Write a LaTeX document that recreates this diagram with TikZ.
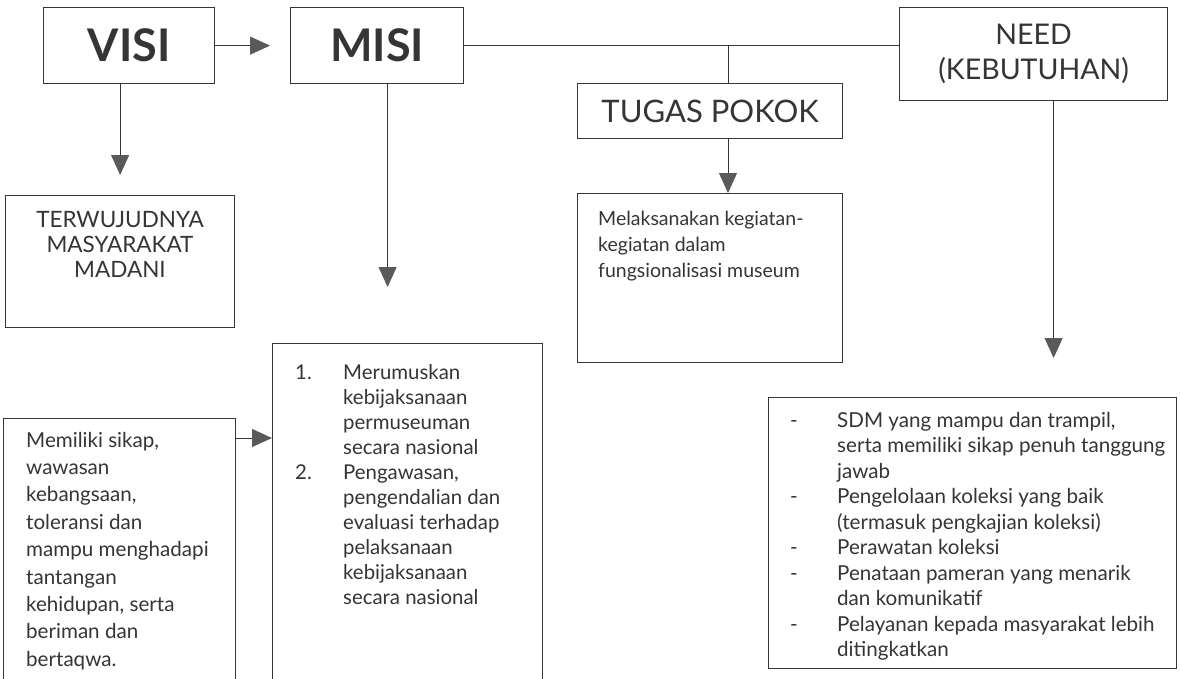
\documentclass[tikz,border=0pt]{standalone}
\usepackage{fontspec}
\setmainfont{Lato}
\usetikzlibrary{arrows.meta}
\definecolor{ink}{HTML}{353535}
\definecolor{headfill}{HTML}{5A5A5A}
\begin{document}
\begin{tikzpicture}[x=1pt,y=-1pt,
  box/.style={draw=ink, line width=1.2pt, rectangle, inner sep=0pt, text=ink},
  conn/.style={draw=ink, line width=1pt},
  arr/.style={conn, -{Triangle[length=20pt,width=18pt,fill=headfill,color=headfill]}},
  big/.style={font=\fontsize{45}{50}\selectfont\bfseries},
  mid/.style={font=\fontsize{31}{36}\selectfont},
  need/.style={font=\fontsize{28.5}{35}\selectfont, align=center},
  capt/.style={font=\fontsize{22.5}{25}\selectfont, text=ink, inner sep=0pt},
  body/.style={text=ink, inner sep=0pt}
]
\useasboundingbox (0,0) rectangle (1181,678);
\clip (0,0) rectangle (1181,678);
\fill[white] (0,0) rectangle (1181,678);

% boxes
\node[box, big, minimum width=171pt, minimum height=76pt, anchor=north west] (visi) at (43,7) {VISI};
\node[box, big, minimum width=173pt, minimum height=76pt, anchor=north west] (misi) at (290,7) {MISI};
\node[box, need, minimum width=268pt, minimum height=93pt, anchor=north west] (needb) at (899,7) {NEED\\(KEBUTUHAN)};
\node[box, mid, minimum width=265pt, minimum height=55pt, anchor=north west] (tugas) at (577,83) {TUGAS POKOK};
\node[box, minimum width=265pt, minimum height=169pt, anchor=north west] (melak) at (577,193) {};
\node[box, minimum width=229pt, minimum height=132pt, anchor=north west] (terw) at (5,195) {};
\node[box, minimum width=232pt, minimum height=280pt, anchor=north west] (memil) at (3,418) {};
\node[box, minimum width=270pt, minimum height=350pt, anchor=north west] (misil) at (272,343) {};
\node[box, minimum width=408pt, minimum height=271pt, anchor=north west] (needl) at (768,397) {};

% texts
\node[capt, anchor=base] (terwt) at (120,227) {\begin{tabular}[t]{@{}c@{}}TERWUJUDNYA\\ MASYARAKAT\\ MADANI\end{tabular}};
\node[body, anchor=base west, font=\fontsize{19.5}{26}\selectfont] (melakt) at (598,225) {\begin{tabular}[t]{@{}l@{}}Melaksanakan kegiatan-\\ kegiatan dalam\\ fungsionalisasi museum\end{tabular}};
\node[body, anchor=base west, font=\fontsize{20.6}{27.4}\selectfont] (memilt) at (26,447) {\begin{tabular}[t]{@{}l@{}}Memiliki sikap,\\ wawasan\\ kebangsaan,\\ toleransi dan\\ mampu menghadapi\\ tantangan\\ kehidupan, serta\\ beriman dan\\ bertaqwa.\end{tabular}};
\node[body, anchor=base west, font=\fontsize{20.4}{25}\selectfont] (misilt) at (295,379) {\begin{tabular}[t]{@{}p{48pt}@{}l@{}}1. & Merumuskan\\ & kebijaksanaan\\ & permuseuman\\ & secara nasional\\ 2. & Pengawasan,\\ & pengendalian dan\\ & evaluasi terhadap\\ & pelaksanaan\\ & kebijaksanaan\\ & secara nasional\end{tabular}};
\node[body, anchor=base west, font=\fontsize{20.6}{25.5}\selectfont] (needlt) at (790,427) {\begin{tabular}[t]{@{}p{47pt}@{}l@{}}- & SDM yang mampu dan trampil,\\ & serta memiliki sikap penuh tanggung\\ & jawab\\ - & Pengelolaan koleksi yang baik\\ & (termasuk pengkajian koleksi)\\ - & Perawatan koleksi\\ - & Penataan pameran yang menarik\\ & dan komunikatif\\ - & Pelayanan kepada masyarakat lebih\\ & ditingkatkan\end{tabular}};

% connectors
\coordinate (tj) at (728,45);
\draw[arr, shorten >=20pt] (visi.east) -- (misi.west);
\draw[arr, shorten >=20pt] (terw.north |- visi.south) -- (terw.north);
\draw[arr, shorten >=56pt] ([xshift=10.5pt]misi.south) -- ([xshift=10.5pt]misi.south |- misil.north);
\draw[conn] (misi.east) -- (needb.west |- misi.east);
\draw[conn] (tj) -- (tj |- tugas.north);
\draw[arr] (tj |- tugas.south) -- (tj |- melak.north);
\draw[arr, shorten >=39pt] ([xshift=20pt]needb.south) -- ([xshift=20pt]needb.south |- needl.north);
\draw[arr] ([yshift=-20pt]memil.north east) -- ([yshift=-20pt]memil.north east -| misil.west);
\end{tikzpicture}
\end{document}
